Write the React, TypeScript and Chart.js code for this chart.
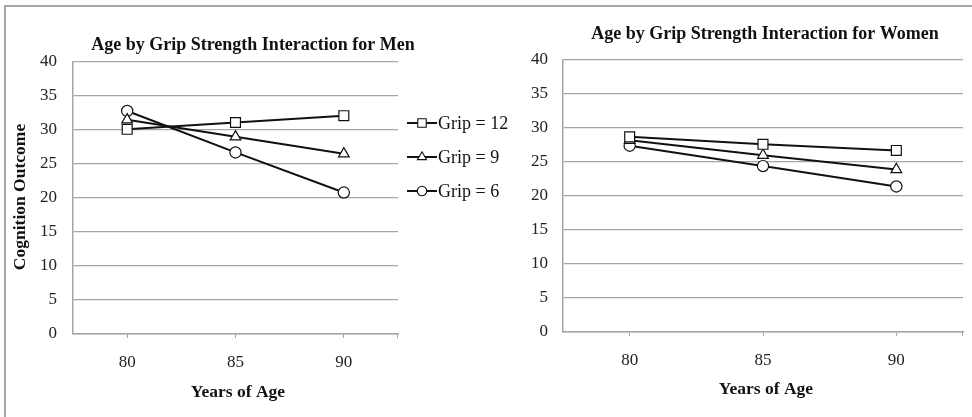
import { useEffect, useRef } from 'react';
import { Chart, registerables } from 'chart.js';

Chart.register(...registerables);

const ages = ['80', '85', '90'];
const seriesLabels = ['Grip = 12', 'Grip = 9', 'Grip = 6'];
const menGrip12 = [30.1, 31.1, 32.1];
const menGrip9 = [31.5, 29.0, 26.5];
const menGrip6 = [32.8, 26.7, 20.8];
const womenGrip12 = [28.7, 27.6, 26.7];
const womenGrip9 = [28.2, 26.0, 23.9];
const womenGrip6 = [27.4, 24.4, 21.4];
const yMin = 0;
const yMax = 40;
const yStep = 5;
const menTitle = 'Age by Grip Strength Interaction for Men';
const womenTitle = 'Age by Grip Strength Interaction for Women';
const xTitle = 'Years of Age';
const yTitle = 'Cognition Outcome';

const FONT = '"Liberation Serif", "Times New Roman", serif';
const GRID = '#a6a6a6';
const styles = ['rect', 'triangle', 'circle'] as const;
const radii = [7, 6.2, 5.6];

function makeDatasets(values: number[][]) {
  return values.map((v, i) => ({
    label: seriesLabels[i],
    data: v,
    borderColor: '#111',
    borderWidth: 2,
    pointStyle: styles[i],
    pointRadius: radii[i],
    pointBorderWidth: 1.2,
    pointBackgroundColor: '#fff',
    pointBorderColor: '#111',
    tension: 0,
  }));
}

function drawMarker(ctx: CanvasRenderingContext2D, style: string, x: number, y: number, r: number) {
  ctx.beginPath();
  if (style === 'rect') {
    const s = r * Math.SQRT1_2;
    ctx.rect(x - s, y - s, 2 * s, 2 * s);
  } else if (style === 'triangle') {
    ctx.moveTo(x, y - r);
    ctx.lineTo(x + r * Math.sin((2 * Math.PI) / 3), y + r / 2);
    ctx.lineTo(x - r * Math.sin((2 * Math.PI) / 3), y + r / 2);
    ctx.closePath();
  } else {
    ctx.arc(x, y, r, 0, Math.PI * 2);
  }
  ctx.fillStyle = '#fff';
  ctx.fill();
  ctx.lineWidth = 1.1;
  ctx.strokeStyle = '#111';
  ctx.stroke();
}

interface PanelCfg {
  left: number;
  width: number;
  area: { left: number; right: number; top: number; bottom: number };
  values: number[][];
  title: string;
  titleX: number;
  titleY: number;
  xTitleX: number;
  xTitleY: number;
  yTitleX?: number;
  yTitleY?: number;
  tickPad: number;
  legend?: { x: number; ys: number[] };
}

function Panel({ cfg }: { cfg: PanelCfg }) {
  const ref = useRef<HTMLCanvasElement>(null);
  useEffect(() => {
    const canvas = ref.current!;
    const H = 417;
    const a = cfg.area;
    const decor = {
      id: 'decor',
      afterDraw(chart: any) {
        const ctx = chart.ctx as CanvasRenderingContext2D;
        const ca = chart.chartArea;
        ctx.save();
        ctx.strokeStyle = GRID;
        ctx.lineWidth = 1;
        ctx.beginPath();
        ctx.moveTo(ca.right - 0.5, ca.bottom);
        ctx.lineTo(ca.right - 0.5, ca.bottom + 4);
        ctx.stroke();
        ctx.fillStyle = '#111';
        ctx.textAlign = 'center';
        ctx.textBaseline = 'middle';
        ctx.font = `bold 18px ${FONT}`;
        ctx.fillText(cfg.title, cfg.titleX, cfg.titleY);
        ctx.font = `bold 17.5px ${FONT}`;
        ctx.fillText(xTitle, cfg.xTitleX, cfg.xTitleY);
        if (cfg.yTitleX !== undefined) {
          ctx.save();
          ctx.translate(cfg.yTitleX, cfg.yTitleY!);
          ctx.rotate(-Math.PI / 2);
          ctx.fillText(yTitle, 0, 0);
          ctx.restore();
        }
        if (cfg.legend) {
          const lg = cfg.legend;
          ctx.font = `18px ${FONT}`;
          ctx.textAlign = 'left';
          seriesLabels.forEach((lab, i) => {
            const y = lg.ys[i];
            ctx.strokeStyle = '#111';
            ctx.lineWidth = 2;
            ctx.beginPath();
            ctx.moveTo(lg.x, y);
            ctx.lineTo(lg.x + 30, y);
            ctx.stroke();
            drawMarker(ctx, styles[i], lg.x + 15, y, radii[i] * 0.85);
            ctx.fillStyle = '#111';
            ctx.fillText(lab, lg.x + 31, y + 1);
          });
        }
        ctx.restore();
      },
    };
    const chart = new Chart(canvas, {
      type: 'line',
      data: { labels: ages, datasets: makeDatasets(cfg.values) as any },
      options: {
        animation: false,
        responsive: false,
        maintainAspectRatio: false,
        layout: {
          padding: { left: 0, top: a.top, right: cfg.width - a.right, bottom: 0 },
        },
        plugins: { legend: { display: false }, title: { display: false }, tooltip: { enabled: false } },
        scales: {
          x: {
            type: 'category',
            offset: true,
            afterFit: (s: any) => {
              s.height = H - a.bottom;
            },
            grid: {
              display: true,
              drawOnChartArea: false,
              drawTicks: true,
              tickLength: 4,
              color: GRID,
              offset: false,
            },
            border: { display: true, color: GRID, width: 1.5 },
            ticks: {
              color: '#222',
              font: { family: FONT, size: 17 },
              padding: 14,
              maxRotation: 0,
            },
          },
          y: {
            type: 'linear',
            min: yMin,
            max: yMax,
            afterFit: (s: any) => {
              s.width = a.left;
            },
            ticks: {
              stepSize: yStep,
              color: '#222',
              font: { family: FONT, size: 17 },
              padding: cfg.tickPad,
            },
            grid: { color: GRID, lineWidth: 1.2, drawTicks: false },
            border: { display: true, color: GRID, width: 1.5 },
          },
        },
      },
      plugins: [decor],
    });
    return () => chart.destroy();
  }, [cfg]);
  return (
    <canvas
      ref={ref}
      width={cfg.width}
      height={417}
      style={{ position: 'absolute', left: cfg.left, top: 0, width: cfg.width, height: 417 }}
    />
  );
}

const menCfg: PanelCfg = {
  left: 0,
  width: 530,
  area: { left: 73, right: 398, top: 62, bottom: 334 },
  values: [menGrip12, menGrip9, menGrip6],
  title: menTitle,
  titleX: 253,
  titleY: 45,
  xTitleX: 238,
  xTitleY: 392,
  yTitleX: 20,
  yTitleY: 197,
  tickPad: 16,
  legend: { x: 407, ys: [123, 157, 191] },
};

const womenCfg: PanelCfg = {
  left: 500,
  width: 472,
  area: { left: 63, right: 463, top: 60, bottom: 332 },
  values: [womenGrip12, womenGrip9, womenGrip6],
  title: womenTitle,
  titleX: 265,
  titleY: 34,
  xTitleX: 266,
  xTitleY: 389,
  tickPad: 15,
};

export default function App() {
  return (
    <div
      style={{
        position: 'fixed',
        left: 0,
        top: 0,
        width: 972,
        height: 417,
        background: '#fff',
        overflow: 'hidden',
      }}
    >
      <div
        style={{
          position: 'absolute',
          left: 4,
          top: 5,
          width: 980,
          height: 430,
          borderTop: '2px solid #a6a6a6',
          borderLeft: '2px solid #a6a6a6',
        }}
      />
      <Panel cfg={menCfg} />
      <Panel cfg={womenCfg} />
    </div>
  );
}
